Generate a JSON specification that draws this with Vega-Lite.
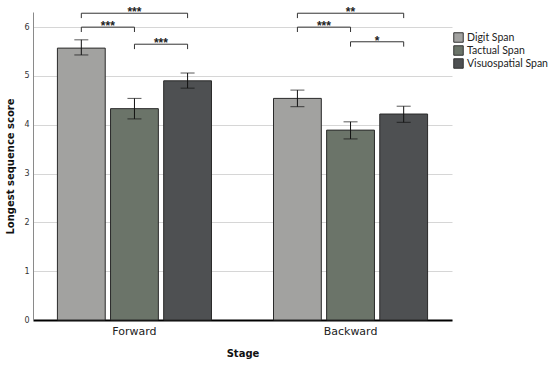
{
  "$schema": "https://vega.github.io/schema/vega-lite/v6.json",
  "autosize": "none",
  "width": 419,
  "height": 308,
  "padding": {"left": 33, "top": 12, "right": 98, "bottom": 45},
  "background": "white",
  "config": {
    "font": "DejaVu Sans",
    "view": {"stroke": null}
  },
  "datasets": {
    "bars": [
      {"stage": "Forward", "span": "Digit Span", "mean": 5.57, "lo": 5.43, "hi": 5.74},
      {"stage": "Forward", "span": "Tactual Span", "mean": 4.33, "lo": 4.12, "hi": 4.54},
      {"stage": "Forward", "span": "Visuospatial Span", "mean": 4.90, "lo": 4.75, "hi": 5.06},
      {"stage": "Backward", "span": "Digit Span", "mean": 4.54, "lo": 4.37, "hi": 4.71},
      {"stage": "Backward", "span": "Tactual Span", "mean": 3.89, "lo": 3.71, "hi": 4.06},
      {"stage": "Backward", "span": "Visuospatial Span", "mean": 4.22, "lo": 4.05, "hi": 4.38}
    ],
    "brackets": [
      {"bid": "F1", "stage": "Forward", "span": "Digit Span", "y": 6.185, "ord": 1},
      {"bid": "F1", "stage": "Forward", "span": "Digit Span", "y": 6.285, "ord": 2},
      {"bid": "F1", "stage": "Forward", "span": "Visuospatial Span", "y": 6.285, "ord": 3},
      {"bid": "F1", "stage": "Forward", "span": "Visuospatial Span", "y": 6.185, "ord": 4},
      {"bid": "F2", "stage": "Forward", "span": "Digit Span", "y": 5.9, "ord": 1},
      {"bid": "F2", "stage": "Forward", "span": "Digit Span", "y": 6.0, "ord": 2},
      {"bid": "F2", "stage": "Forward", "span": "Tactual Span", "y": 6.0, "ord": 3},
      {"bid": "F2", "stage": "Forward", "span": "Tactual Span", "y": 5.9, "ord": 4},
      {"bid": "F3", "stage": "Forward", "span": "Tactual Span", "y": 5.55, "ord": 1},
      {"bid": "F3", "stage": "Forward", "span": "Tactual Span", "y": 5.65, "ord": 2},
      {"bid": "F3", "stage": "Forward", "span": "Visuospatial Span", "y": 5.65, "ord": 3},
      {"bid": "F3", "stage": "Forward", "span": "Visuospatial Span", "y": 5.55, "ord": 4},
      {"bid": "B1", "stage": "Backward", "span": "Digit Span", "y": 6.185, "ord": 1},
      {"bid": "B1", "stage": "Backward", "span": "Digit Span", "y": 6.285, "ord": 2},
      {"bid": "B1", "stage": "Backward", "span": "Visuospatial Span", "y": 6.285, "ord": 3},
      {"bid": "B1", "stage": "Backward", "span": "Visuospatial Span", "y": 6.185, "ord": 4},
      {"bid": "B2", "stage": "Backward", "span": "Digit Span", "y": 5.9, "ord": 1},
      {"bid": "B2", "stage": "Backward", "span": "Digit Span", "y": 6.0, "ord": 2},
      {"bid": "B2", "stage": "Backward", "span": "Tactual Span", "y": 6.0, "ord": 3},
      {"bid": "B2", "stage": "Backward", "span": "Tactual Span", "y": 5.9, "ord": 4},
      {"bid": "B3", "stage": "Backward", "span": "Tactual Span", "y": 5.6, "ord": 1},
      {"bid": "B3", "stage": "Backward", "span": "Tactual Span", "y": 5.7, "ord": 2},
      {"bid": "B3", "stage": "Backward", "span": "Visuospatial Span", "y": 5.7, "ord": 3},
      {"bid": "B3", "stage": "Backward", "span": "Visuospatial Span", "y": 5.6, "ord": 4}
    ],
    "labels": [
      {"stage": "Forward", "span": "Tactual Span", "y": 6.285, "label": "***", "pos": "center"},
      {"stage": "Forward", "span": "Digit Span", "y": 6.0, "label": "***", "pos": "between"},
      {"stage": "Forward", "span": "Tactual Span", "y": 5.65, "label": "***", "pos": "between"},
      {"stage": "Backward", "span": "Tactual Span", "y": 6.285, "label": "**", "pos": "center"},
      {"stage": "Backward", "span": "Digit Span", "y": 6.0, "label": "***", "pos": "between"},
      {"stage": "Backward", "span": "Tactual Span", "y": 5.7, "label": "*", "pos": "between"}
    ]
  },
  "encoding": {
    "x": {
      "field": "stage",
      "type": "nominal",
      "sort": ["Forward", "Backward"],
      "scale": {"paddingInner": 0.287, "paddingOuter": 0.113},
      "axis": {
        "title": "Stage",
        "titleFont": "DejaVu Sans",
        "titleFontWeight": "bold",
        "titleFontSize": 10,
        "titleColor": "#111",
        "titlePadding": 12,
        "labelAngle": 0,
        "labelFontSize": 11,
        "labelColor": "#222",
        "labelPadding": 5,
        "ticks": false,
        "domainColor": "#000",
        "domainWidth": 2
      }
    },
    "xOffset": {
      "field": "span",
      "type": "nominal",
      "sort": ["Digit Span", "Tactual Span", "Visuospatial Span"],
      "scale": {"paddingInner": 0.1, "paddingOuter": 0}
    }
  },
  "layer": [
    {
      "data": {"name": "bars"},
      "mark": {"type": "bar", "stroke": "#2a2a2a", "strokeWidth": 1},
      "encoding": {
        "y": {
          "field": "mean",
          "type": "quantitative",
          "scale": {"domain": [0, 6.31], "nice": false},
          "axis": {
            "title": "Longest sequence score",
            "titleFontWeight": "bold",
            "titleFontSize": 10,
            "titleColor": "#111",
            "titlePadding": 8,
            "values": [0, 1, 2, 3, 4, 5, 6],
            "labelFontSize": 8,
            "labelColor": "#333",
            "labelPadding": 4,
            "ticks": false,
            "domainColor": "#8a8a8a",
            "domainWidth": 1,
            "grid": true,
            "gridColor": "#d6d6d6",
            "gridWidth": 1
          }
        },
        "color": {
          "field": "span",
          "type": "nominal",
          "sort": ["Digit Span", "Tactual Span", "Visuospatial Span"],
          "scale": {"range": ["#a2a2a0", "#6b7469", "#4e5052"]},
          "legend": {
            "title": null,
            "orient": "none",
            "legendX": 420,
            "legendY": 20,
            "symbolType": "square",
            "symbolSize": 90,
            "symbolStrokeColor": "#333",
            "symbolStrokeWidth": 1,
            "labelFont": "Lato",
            "labelFontSize": 10.5,
            "labelColor": "#222",
            "labelOffset": 3,
            "rowPadding": -2
          }
        }
      }
    },
    {
      "data": {"name": "bars"},
      "mark": {"type": "rule", "color": "#111", "strokeWidth": 1},
      "encoding": {
        "y": {"field": "lo", "type": "quantitative"},
        "y2": {"field": "hi"}
      }
    },
    {
      "data": {"name": "bars"},
      "mark": {"type": "tick", "color": "#111", "size": 14, "thickness": 1},
      "encoding": {
        "y": {"field": "lo", "type": "quantitative"}
      }
    },
    {
      "data": {"name": "bars"},
      "mark": {"type": "tick", "color": "#111", "size": 14, "thickness": 1},
      "encoding": {
        "y": {"field": "hi", "type": "quantitative"}
      }
    },
    {
      "data": {"name": "brackets"},
      "mark": {"type": "line", "color": "#333", "strokeWidth": 1},
      "encoding": {
        "y": {"field": "y", "type": "quantitative"},
        "detail": {"field": "bid"},
        "order": {"field": "ord"}
      }
    },
    {
      "data": {"name": "labels"},
      "transform": [{"filter": "datum.pos == 'center'"}],
      "mark": {"type": "text", "font": "Liberation Sans", "fontWeight": "bold", "fontSize": 12, "color": "#222", "baseline": "alphabetic", "dy": 3},
      "encoding": {
        "y": {"field": "y", "type": "quantitative"},
        "text": {"field": "label"}
      }
    },
    {
      "data": {"name": "labels"},
      "transform": [{"filter": "datum.pos == 'between'"}],
      "mark": {"type": "text", "font": "Liberation Sans", "fontWeight": "bold", "fontSize": 12, "color": "#222", "baseline": "alphabetic", "dy": 3, "dx": 26.5},
      "encoding": {
        "y": {"field": "y", "type": "quantitative"},
        "text": {"field": "label"}
      }
    }
  ]
}
